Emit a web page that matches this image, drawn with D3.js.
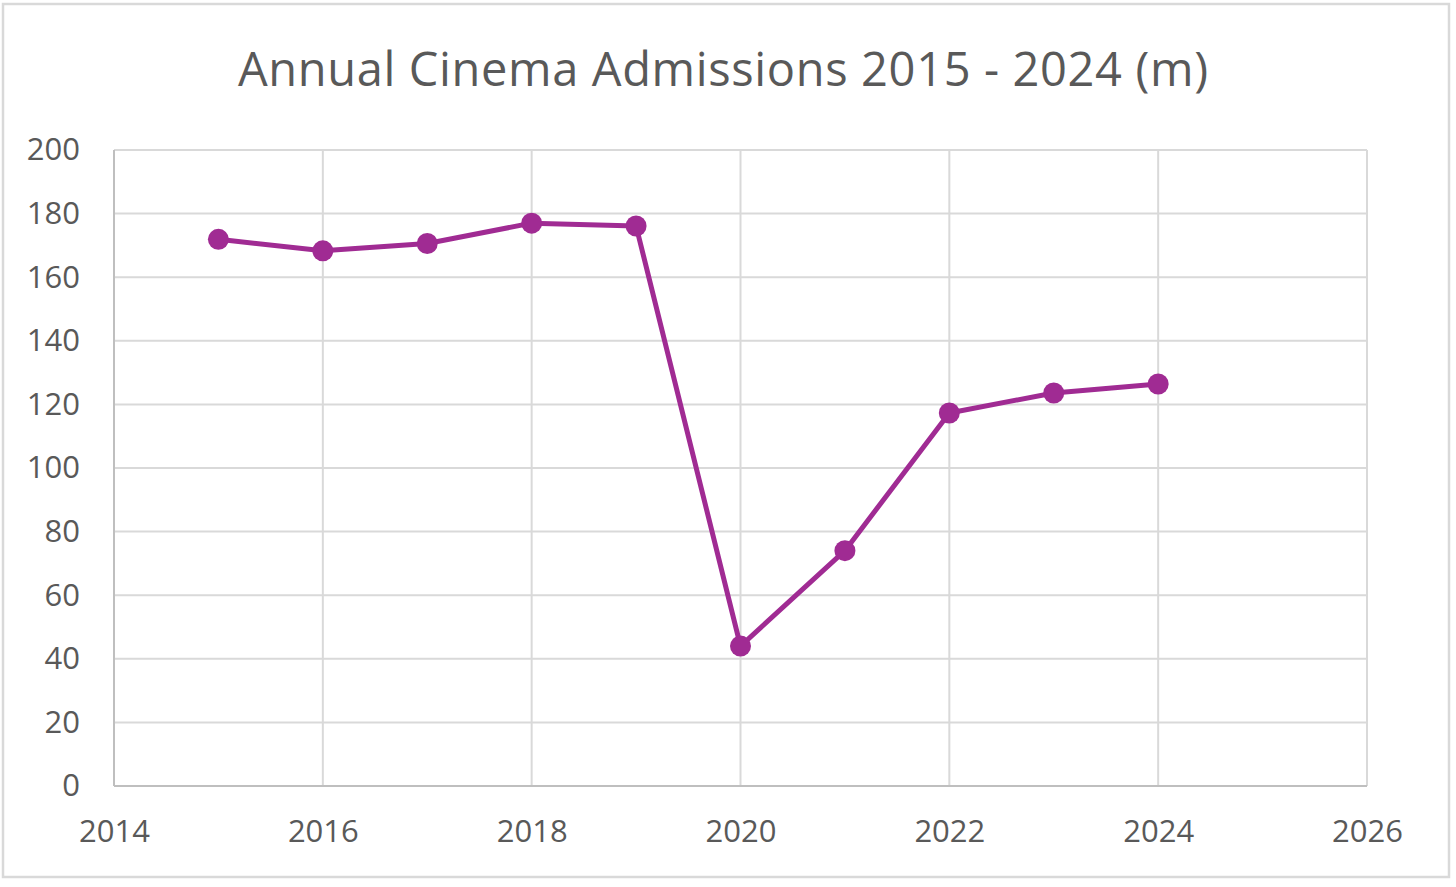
<!DOCTYPE html>
<html><head><meta charset="utf-8">
<script src="https://cdn.jsdelivr.net/npm/d3@7"></script>
<style>body{margin:0;background:#fff;}svg{display:block;font-family:"Open Sans",Inter,sans-serif;}</style>
</head><body><svg id="c" width="1456" height="887"></svg>
<script>
const years = [2015,2016,2017,2018,2019,2020,2021,2022,2023,2024];
const admissions = [171.9,168.3,170.6,177.0,176.1,44.0,74.0,117.3,123.6,126.4];
const xTicks = [2014,2016,2018,2020,2022,2024,2026];
const yTicks = [0,20,40,60,80,100,120,140,160,180,200];
const title = "Annual Cinema Admissions 2015 - 2024 (m)";

const svg = d3.select("#c");
const m={left:114,right:1367,top:150,bottom:786};
const x=d3.scaleLinear().domain([2014,2026]).range([m.left,m.right]);
const y=d3.scaleLinear().domain([0,200]).range([m.bottom,m.top]);

svg.append("rect").attr("x",3).attr("y",4).attr("width",1446).attr("height",873)
  .attr("fill","#fff").attr("stroke","#d9d9d9").attr("stroke-width",2.5);

svg.append("text").attr("x",723).attr("y",86).attr("text-anchor","middle")
  .attr("font-size",47).attr("fill","#595959").attr("textLength",970).attr("lengthAdjust","spacing").text(title);

const g=svg.append("g");
g.selectAll(".hg").data(yTicks).join("line")
  .attr("x1",m.left).attr("x2",m.right).attr("y1",d=>y(d)).attr("y2",d=>y(d))
  .attr("stroke","#d9d9d9").attr("stroke-width",2);
g.selectAll(".vg").data(xTicks).join("line")
  .attr("y1",m.top).attr("y2",m.bottom).attr("x1",d=>x(d)).attr("x2",d=>x(d))
  .attr("stroke",d=>d===2014?"#bfbfbf":"#d9d9d9").attr("stroke-width",2);
g.append("line").attr("x1",m.left).attr("x2",m.right).attr("y1",m.bottom).attr("y2",m.bottom)
  .attr("stroke","#bfbfbf").attr("stroke-width",2);

const yAxis=d3.axisLeft(y).tickValues(yTicks).tickSize(0).tickPadding(34);
const ya=svg.append("g").attr("transform",`translate(${m.left},0)`).call(yAxis);
ya.select(".domain").remove();
ya.selectAll("text").attr("font-size",31).attr("fill","#595959").attr("font-family","'Open Sans',sans-serif");

const xAxis=d3.axisBottom(x).tickValues(xTicks).tickFormat(d3.format("d")).tickSize(0).tickPadding(34);
const xa=svg.append("g").attr("transform",`translate(0,${m.bottom})`).call(xAxis);
xa.select(".domain").remove();
xa.selectAll("text").attr("font-size",31).attr("fill","#595959").attr("font-family","'Open Sans',sans-serif");

const color="#a02b93";
const pts=years.map((yr,i)=>[yr,admissions[i]]);
svg.append("path").datum(pts).attr("fill","none").attr("stroke",color).attr("stroke-width",5)
  .attr("stroke-linejoin","round")
  .attr("d",d3.line().x(d=>x(d[0])).y(d=>y(d[1])));
svg.selectAll(".pt").data(pts).join("circle")
  .attr("cx",d=>x(d[0])).attr("cy",d=>y(d[1])).attr("r",10.5).attr("fill",color);
</script></body></html>
